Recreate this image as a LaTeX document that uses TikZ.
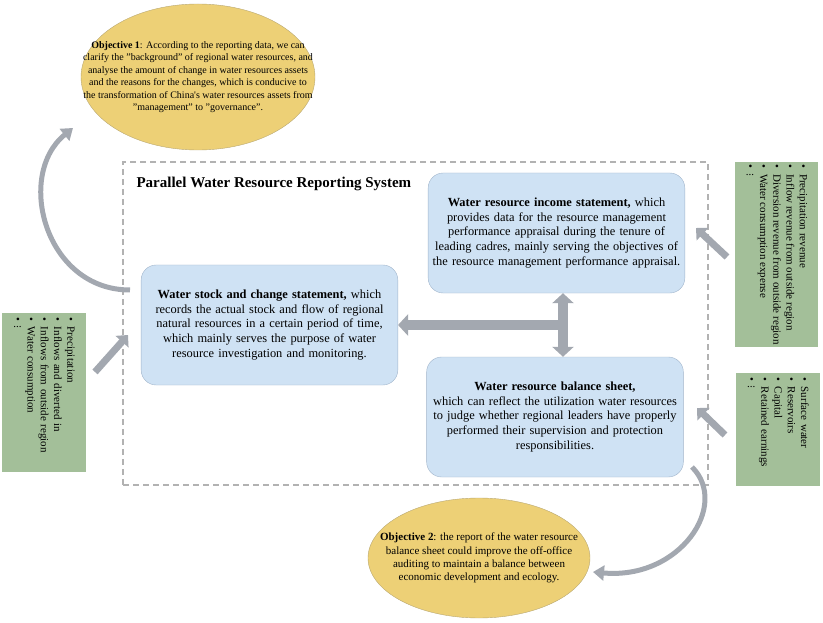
\documentclass[tikz,border=0pt]{standalone}
\usepackage{fontspec}
\setmainfont{Liberation Serif}
\usetikzlibrary{arrows.meta,shapes.geometric}
\definecolor{boxblue}{RGB}{207,226,244}
\definecolor{boxline}{RGB}{160,180,202}
\definecolor{objyellow}{RGB}{237,208,118}
\definecolor{objline}{RGB}{185,168,115}
\definecolor{listgreen}{RGB}{163,191,153}
\definecolor{arrowgray}{RGB}{163,168,176}
\definecolor{framegray}{RGB}{178,178,178}
\newcommand{\moredots}{\raisebox{-1pt}{\rotatebox{90}{...}}}
\begin{document}
\begin{tikzpicture}[x=1pt,y=-1pt,
    statement/.style={draw=boxline,fill=boxblue,rounded corners=15pt,minimum width=253pt,minimum height=120pt,text width=250pt,align=center,font=\fontsize{12.4}{14.6}\selectfont},
    objective/.style={ellipse,draw=objline,fill=objyellow,inner sep=0pt},
    objtext/.style={align=center,font=\fontsize{10}{12.5}\selectfont},
    itemlist/.style={fill=listgreen,rotate=-90,inner sep=4pt,align=left,font=\fontsize{11}{13.3}\selectfont},
    blockarrow/.style={draw=arrowgray,line width=7pt,-{Triangle[length=9pt,width=17pt]}},
    twoway/.style={draw=arrowgray,line width=10pt,{Triangle[length=10pt,width=21pt]}-{Triangle[length=10pt,width=21pt]}},
    bentarrow/.style={draw=arrowgray,line width=5pt,-{Triangle[length=11pt,width=15pt]}}]
  \useasboundingbox (0,0) rectangle (823,623);
  \node[draw=framegray,line width=1.2pt,dash pattern=on 6pt off 4pt,minimum width=585pt,minimum height=323pt] (frame) at (415.5,323.5) {};
  \node[anchor=west,font=\bfseries\fontsize{15}{17}\selectfont] (title) at (133,184) {Parallel Water Resource Reporting System};

  \node[statement] (stock) at (269.5,325) {\textbf{Water stock and change statement,} which\\
    records the actual stock and flow of regional\\
    natural resources in a certain period of time,\\
    which mainly serves the purpose of water\\
    resource investigation and monitoring.};
  \node[statement] (income) at (556.5,233) {\textbf{Water resource income statement,} which\\
    provides data for the resource management\\
    performance appraisal during the tenure of\\
    leading cadres, mainly serving the objectives of\\
    the resource management performance appraisal.};
  \node[statement] (balance) at (555,417) {\textbf{Water resource balance sheet,}\\
    which can reflect the utilization water resources\\
    to judge whether regional leaders have properly\\
    performed their supervision and protection\\
    responsibilities.};

  \node[objective,minimum width=234pt,minimum height=146pt] (obj1) at (198,77) {};
  \node[objtext] (obj1text) at (obj1) {\textbf{Objective 1}: According to the reporting data, we can\\
    clarify the "background" of regional water resources, and\\
    analyse the amount of change in water resources assets\\
    and the reasons for the changes, which is conducive to\\
    the transformation of China\textquotesingle s water resources assets from\\
    "management" to "governance".};
  \node[objective,minimum width=222pt,minimum height=120pt] (obj2) at (479,558) {};
  \node[objtext,font=\fontsize{11}{13.3}\selectfont] (obj2text) at (obj2) {\textbf{Objective 2}: the report of the water resource\\
    balance sheet could improve the off-office\\
    auditing to maintain a balance between\\
    economic development and ecology.};

  \node[itemlist,minimum width=159pt,minimum height=84pt,text width=151pt] (stocklist) at (44,392.5) {\textbullet\hspace{6pt}Precipitation\\
    \textbullet\hspace{6pt}Inflows and diverted in\\
    \textbullet\hspace{6pt}Inflows from outside region\\
    \textbullet\hspace{6pt}Water consumption\\
    \textbullet\hspace{6pt}\moredots};
  \node[itemlist,minimum width=185pt,minimum height=83pt,inner sep=1pt] (incomelist) at (776.5,254.5) {\textbullet\hspace{6pt}Precipitation revenue\\
    \textbullet\hspace{6pt}Inflow revenue from outside region\\
    \textbullet\hspace{6pt}Diversion revenue from outside region\\
    \textbullet\hspace{6pt}Water consumption expense\\
    \textbullet\hspace{6pt}\moredots};
  \node[itemlist,minimum width=113pt,minimum height=84pt,text width=105pt] (balancelist) at (778,429.5) {\textbullet\hspace{6pt}Surface water\\
    \textbullet\hspace{6pt}Reservoirs\\
    \textbullet\hspace{6pt}Capital\\
    \textbullet\hspace{6pt}Retained earnings\\
    \textbullet\hspace{6pt}\moredots};

  \coordinate (junction) at (563,325);
  \draw[twoway] (junction |- income.south) -- (junction |- balance.north);
  \draw[blockarrow,line width=10pt,-{Triangle[length=10pt,width=21pt]}] (junction) -- (stock.east);

  \coordinate (stockin)   at (95,372);
  \coordinate (stocktip)  at (128,335);
  \coordinate (incomein)  at (727,257);
  \coordinate (incometip) at (696,228);
  \coordinate (balancein) at (725,435);
  \coordinate (balancetip) at (697,408);
  \draw[blockarrow] (stockin) -- (stocktip);
  \draw[blockarrow] (incomein) -- (incometip);
  \draw[blockarrow] (balancein) -- (balancetip);

  \coordinate (obj1from) at (130,290);
  \coordinate (obj1tip)  at (73,128);
  \coordinate (obj2from) at (692,467);
  \coordinate (obj2tip)  at (593,572);
  \draw[bentarrow] (obj1from) .. controls (45,290) and (15,175) .. (obj1tip);
  \draw[bentarrow] (obj2from) .. controls (730,505) and (680,580) .. (obj2tip);
\end{tikzpicture}
\end{document}
